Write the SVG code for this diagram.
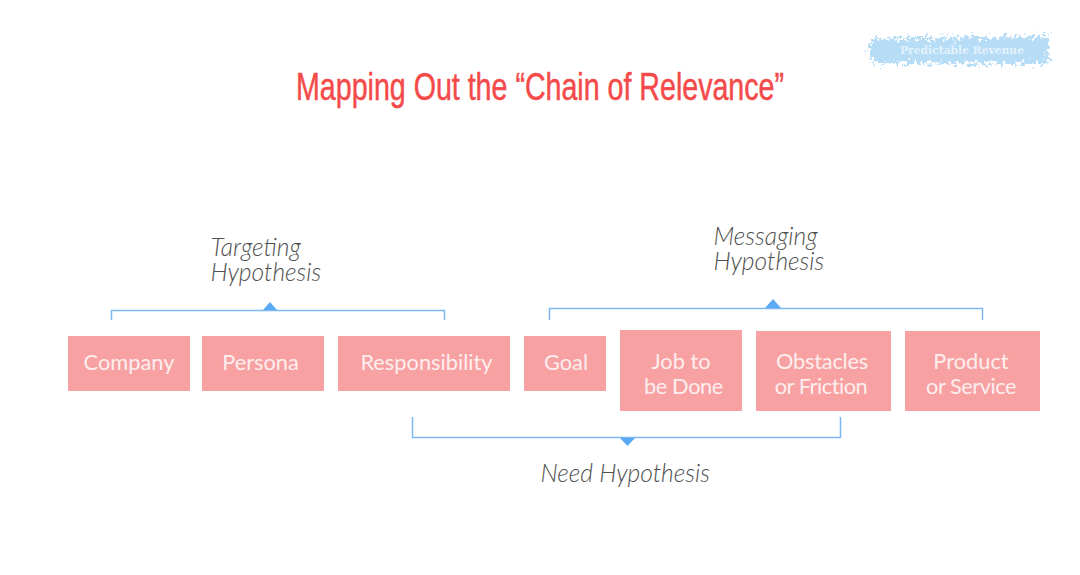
<svg xmlns="http://www.w3.org/2000/svg" width="1080" height="575" viewBox="0 0 1080 575">
<style>
.box{fill:#f7a1a3}
.lbl{font-family:Lato,"Liberation Sans",sans-serif;font-size:21.8px;fill:#fdeeee;text-anchor:middle}
.hyp{font-family:Lato,"Liberation Sans",sans-serif;font-style:italic;font-weight:300;font-size:24.6px;fill:#505050}
.br{fill:none;stroke:#7db8f5;stroke-width:1.5}
.tip{fill:#5aa9f5}
</style>
<defs>
<filter id="rough" x="-10%" y="-60%" width="120%" height="220%">
<feTurbulence type="fractalNoise" baseFrequency="0.28" numOctaves="3" seed="7"/>
<feDisplacementMap in="SourceGraphic" scale="18" xChannelSelector="R" yChannelSelector="G"/>
<feGaussianBlur stdDeviation="0.6"/>
</filter>
</defs>
<rect width="1080" height="575" fill="#fff"/>
<g id="badge">
<path d="M872 39L1048 36L1049 60L1043 64L875 63L868 55Z" fill="#b7dcf6" filter="url(#rough)"/>
<text x="962" y="54" font-family="'DejaVu Serif','Liberation Serif',serif" font-weight="bold" font-size="10.500" fill="#e2f2fc" text-anchor="middle" textLength="124" lengthAdjust="spacingAndGlyphs">Predictable Revenue</text>
</g>
<text id="title" x="540" y="100" font-family="'Liberation Sans',sans-serif" font-size="38" fill="#f44a4a" stroke="#f44a4a" stroke-width="0.5" text-anchor="middle" textLength="488" lengthAdjust="spacingAndGlyphs">Mapping Out the “Chain of Relevance”</text>
<g id="connectors">
<path class="br" d="M111.500 320V310.500H444.500V320"/>
<path class="tip" d="M263 310L270 302L277 310Z"/>
<path class="br" d="M549.500 320V308.500H982.500V320"/>
<path class="tip" d="M765 308L773 299L781 308Z"/>
<path class="br" d="M412.500 417V437.500H840.500V417"/>
<path class="tip" d="M620 438L635 438L627.500 446Z"/>
</g>
<g id="targeting"><text class="hyp"><tspan x="210.500" y="256">Targeting</tspan><tspan x="210.500" y="281">Hypothesis</tspan></text></g>
<g id="messaging"><text class="hyp"><tspan x="713.500" y="245">Messaging</tspan><tspan x="713.500" y="270">Hypothesis</tspan></text></g>
<g id="need"><text class="hyp" x="540.500" y="482">Need Hypothesis</text></g>
<g id="company"><rect class="box" x="68" y="336" width="122" height="55"/><text class="lbl" x="129" y="370">Company</text></g>
<g id="persona"><rect class="box" x="202" y="336" width="122" height="55"/><text class="lbl" x="260.500" y="370">Persona</text></g>
<g id="responsibility"><rect class="box" x="338" y="336" width="172" height="55"/><text class="lbl" x="426.500" y="370">Responsibility</text></g>
<g id="goal"><rect class="box" x="524" y="336" width="82" height="55"/><text class="lbl" x="566" y="370">Goal</text></g>
<g id="job"><rect class="box" x="620" y="330" width="122" height="81"/><text class="lbl"><tspan x="681" y="369">Job to</tspan><tspan x="683.500" y="394" letter-spacing="-0.4">be Done</tspan></text></g>
<g id="obstacles"><rect class="box" x="756" y="331" width="135" height="80"/><text class="lbl"><tspan x="822" y="369" letter-spacing="-0.2">Obstacles</tspan><tspan x="821" y="394" letter-spacing="-0.5">or Friction</tspan></text></g>
<g id="product"><rect class="box" x="905" y="331" width="135" height="80"/><text class="lbl"><tspan x="971" y="369">Product</tspan><tspan x="971" y="394" letter-spacing="-0.5">or Service</tspan></text></g>
</svg>
